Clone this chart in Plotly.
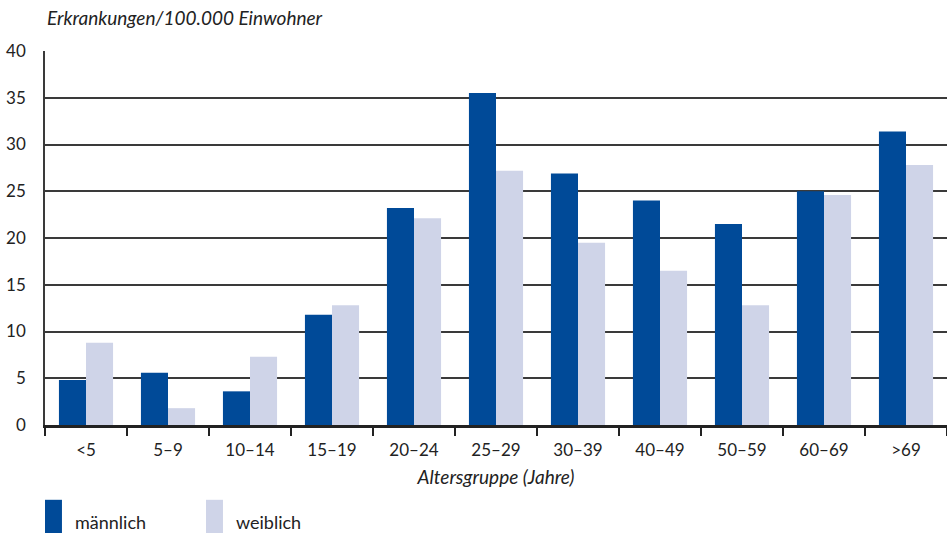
import plotly.graph_objects as go

# age groups and incidence per 100,000 inhabitants
altersgruppen = ["<5", "5–9", "10–14", "15–19", "20–24", "25–29",
                 "30–39", "40–49", "50–59", "60–69", ">69"]
maennlich = [4.8, 5.6, 3.6, 11.8, 23.2, 35.5, 26.9, 24.0, 21.5, 25.0, 31.4]
weiblich = [8.8, 1.8, 7.3, 12.8, 22.1, 27.2, 19.5, 16.5, 12.8, 24.6, 27.8]
y_ticks = [0, 5, 10, 15, 20, 25, 30, 35, 40]

blau = "#004A98"
hellblau = "#CFD4E8"
text_col = "#222222"
font_name = "Lato"

fig = go.Figure()
fig.add_trace(go.Bar(x=altersgruppen, y=maennlich, name="männlich",
                     marker=dict(color=blau, line=dict(width=0))))
fig.add_trace(go.Bar(x=altersgruppen, y=weiblich, name="weiblich",
                     marker=dict(color=hellblau, line=dict(width=0))))

fig.update_layout(
    width=947, height=533,
    margin=dict(l=45, r=0, t=51, b=108),
    paper_bgcolor="white", plot_bgcolor="white",
    barmode="group", bargap=0.34, bargroupgap=0,
    showlegend=False,
    font=dict(family=font_name, size=16, color=text_col),
)

fig.update_yaxes(
    range=[0, 40], tickvals=y_ticks, ticktext=[str(v) for v in y_ticks],
    showgrid=True, gridcolor="#3a3a3a", gridwidth=1.5,
    showline=True, linecolor="#3a3a3a", linewidth=1.5,
    ticks="", ticklabelstandoff=14, zeroline=False, automargin=False,
    tickfont=dict(size=17, color=text_col),
)
fig.update_xaxes(
    showline=True, linecolor="#222222", linewidth=2.5,
    ticks="outside", tickson="boundaries", ticklen=8, tickwidth=1.5,
    tickcolor="#222222", ticklabelstandoff=8, automargin=False,
    tickfont=dict(size=17, color=text_col),
    title=dict(text="<i>Altersgruppe (Jahre)</i>", standoff=12,
               font=dict(size=19, color=text_col)),
)

# y-axis title above the plot
fig.add_annotation(x=0, y=1, xref="paper", yref="paper",
                   xanchor="left", yanchor="bottom", xshift=0, yshift=20,
                   text="<i>Erkrankungen/100.000 Einwohner</i>", showarrow=False,
                   font=dict(size=19, color=text_col))

# legend below the chart (swatches + labels)
legend_items = [("männlich", blau, 0.0), ("weiblich", hellblau, 0.1785)]
for label, col, x0 in legend_items:
    fig.add_shape(type="rect", xref="paper", yref="paper",
                  x0=x0, x1=x0 + 0.0188, y0=-0.3, y1=-0.2,
                  fillcolor=col, line=dict(width=0))
    fig.add_annotation(x=x0 + 0.031, y=-0.26, xref="paper", yref="paper",
                       xanchor="left", yanchor="middle", text=label,
                       showarrow=False, font=dict(size=18, color=text_col))

# drop the default body margin so the figure sits at the window's corner
fig.write_html("out.html", config={"displayModeBar": False},
               post_script="document.body.style.margin='0';"
                           "document.body.style.overflow='hidden';")
